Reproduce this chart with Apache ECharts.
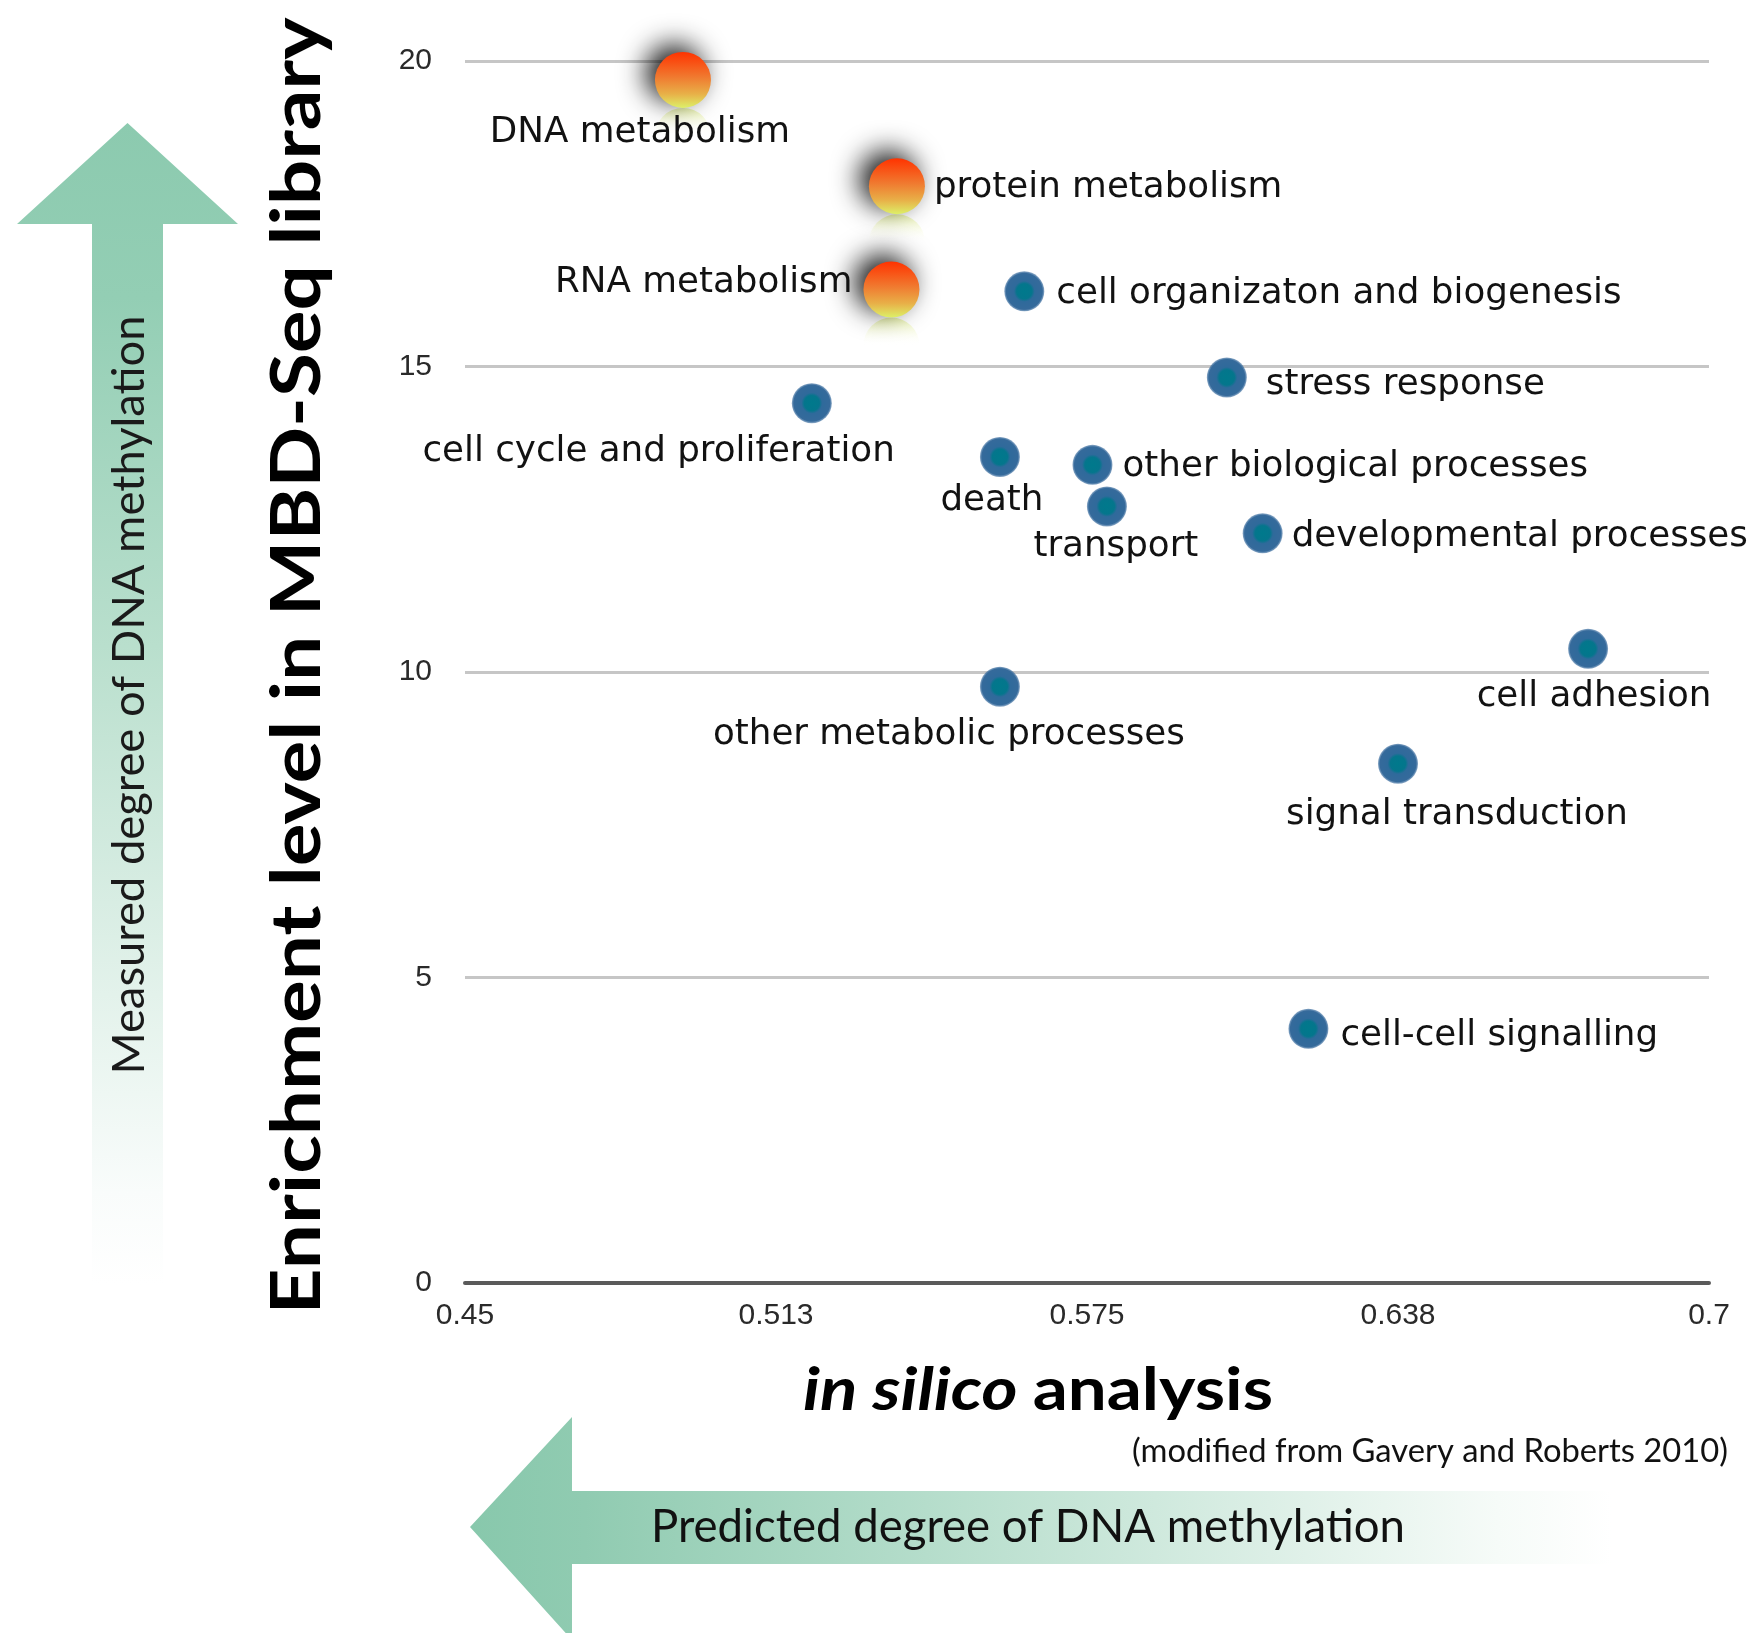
<!DOCTYPE html>
<html>
<head>
<meta charset="utf-8">
<script src="https://cdn.jsdelivr.net/npm/echarts@6/dist/echarts.min.js"></script>
<style>
html,body{margin:0;padding:0;background:#fff;}
#chart{width:1754px;height:1633px;}
</style>
</head>
<body>
<div id="chart"></div>
<script>
// ---- data ----
const categories = ['DNA metabolism','protein metabolism','RNA metabolism','cell organizaton and biogenesis','stress response','cell cycle and proliferation','death','other biological processes','transport','developmental processes','cell adhesion','other metabolic processes','signal transduction','cell-cell signalling'];
const predicted  = [0.4938, 0.5368, 0.5343, 0.5624, 0.6031, 0.5197, 0.5575, 0.5761, 0.5790, 0.6103, 0.6757, 0.5575, 0.6375, 0.6195];
const enrichment = [19.69, 17.95, 16.28, 16.23, 14.82, 14.40, 13.52, 13.39, 12.71, 12.27, 10.38, 9.76, 8.50, 4.16];
const highlightCategories = ['DNA metabolism','protein metabolism','RNA metabolism'];
const highlightPredicted  = [0.4938, 0.5368, 0.5357];
const highlightEnrichment = [19.69, 17.95, 16.26];
const xTickValues = [0.45, 0.5125, 0.575, 0.6375, 0.7];
const xTickLabels = ['0.45', '0.513', '0.575', '0.638', '0.7'];
const yTitle = 'Enrichment level in MBD-Seq library';
const xTitleItalic = 'in silico';
const xTitleRest = 'analysis';
const sourceNote = '(modified from Gavery and Roberts 2010)';
const verticalArrowText = 'Measured degree of DNA methylation';
const horizontalArrowText = 'Predicted degree of DNA methylation';

// ---- label placement (style) ----
const labelPlacement = {
  'DNA metabolism': ['center', -43, 53],
  'protein metabolism': ['left', 37, 1],
  'RNA metabolism': ['right', -39, -7],
  'cell organizaton and biogenesis': ['left', 32, 2],
  'stress response': ['left', 39, 7],
  'cell cycle and proliferation': ['right', 83, 49],
  'death': ['center', -8, 44],
  'other biological processes': ['left', 30, 2],
  'transport': ['center', 9, 40],
  'developmental processes': ['left', 29, 3],
  'cell adhesion': ['center', 6, 48],
  'other metabolic processes': ['center', -51, 48],
  'signal transduction': ['center', 59, 51],
  'cell-cell signalling': ['left', 32, 7]
};
function labelFor(name, show) {
  const p = labelPlacement[name];
  return {
    show: show,
    formatter: '{b}',
    position: 'inside',
    align: p[0],
    verticalAlign: 'middle',
    offset: [p[1], p[2]],
    fontFamily: 'DejaVu Sans',
    fontSize: 35.7,
    color: '#121212'
  };
}

const measureCtx = document.createElement('canvas').getContext('2d');
function textWidth(text, font) { measureCtx.font = font; return measureCtx.measureText(text).width; }
function fitText(text, font, target) { return target / textWidth(text, font); }

const chart = echarts.init(document.getElementById('chart'));

const blueData = categories.map((c, i) => ({
  name: c,
  value: [predicted[i], enrichment[i]],
  label: labelFor(c, highlightCategories.indexOf(c) < 0)
}));
const orangeData = highlightCategories.map((c, i) => ({
  name: c,
  value: [highlightPredicted[i], highlightEnrichment[i]],
  label: labelFor(c, true)
}));

// graphic texts
const fYT = 'bold 68px Lato';
const fVA = '44px Lato';
const fHA = '46px Lato';
const fNote = '32px Lato';
const fXI = 'italic bold 60px Lato';
const fXR = 'bold 60px Lato';
const xiW = textWidth(xTitleItalic + ' ', fXI);
const xrW = textWidth(xTitleRest, fXR);
const xs = 470 / (xiW + xrW);
const tickFont = "'Liberation Sans Narrow', 'Liberation Sans'";

const option = {
  animation: false,
  backgroundColor: '#ffffff',
  grid: { left: 465, right: 45, top: 61, bottom: 350 },
  xAxis: {
    type: 'value', min: 0.45, max: 0.7,
    splitLine: { show: false },
    axisTick: { show: false },
    axisLine: { show: true, lineStyle: { color: '#5a5a5a', width: 4 } },
    axisLabel: {
      customValues: xTickValues,
      margin: 18,
      fontFamily: tickFont, fontSize: 30, color: '#2a2a2a',
      formatter: function (v) {
        for (let i = 0; i < xTickValues.length; i++) {
          if (Math.abs(v - xTickValues[i]) < 1e-6) return xTickLabels[i];
        }
        return '';
      }
    }
  },
  yAxis: {
    type: 'value', min: 0, max: 20, interval: 5,
    axisLine: { show: false }, axisTick: { show: false },
    splitLine: { show: true, lineStyle: { color: '#c6c6c6', width: 3 } },
    axisLabel: { margin: 33, fontFamily: tickFont, fontSize: 30, color: '#2a2a2a' }
  },
  series: [
    {
      type: 'scatter', z: 2, symbol: 'circle', symbolSize: 40,
      emphasis: { disabled: true },
      itemStyle: {
        opacity: 1,
        color: {
          type: 'radial', x: 0.5, y: 0.5, r: 0.5,
          colorStops: [
            { offset: 0, color: '#00798c' },
            { offset: 0.38, color: '#04768c' },
            { offset: 0.52, color: '#2f6a9b' },
            { offset: 0.9, color: '#356a9b' },
            { offset: 1, color: 'rgba(60,110,160,0.6)' }
          ]
        }
      },
      data: blueData
    },
    {
      type: 'scatter', z: 3, symbol: 'circle', symbolSize: 56, symbolOffset: [0, 56],
      silent: true, emphasis: { disabled: true },
      label: { show: false },
      itemStyle: {
        opacity: 1,
        color: {
          type: 'linear', x: 0, y: 0, x2: 0, y2: 1,
          colorStops: [
            { offset: 0, color: 'rgba(222,238,120,0.6)' },
            { offset: 0.5, color: 'rgba(255,255,255,0)' },
            { offset: 1, color: 'rgba(255,255,255,0)' }
          ]
        }
      },
      data: highlightCategories.map((c, i) => ({ name: c, value: [highlightPredicted[i], highlightEnrichment[i]] }))
    },
    {
      type: 'scatter', z: 4, symbol: 'circle', symbolSize: 56,
      emphasis: { disabled: true },
      itemStyle: {
        opacity: 1,
        color: {
          type: 'linear', x: 0, y: 0, x2: 0, y2: 1,
          colorStops: [
            { offset: 0, color: '#ff3300' },
            { offset: 0.45, color: '#f07a30' },
            { offset: 0.75, color: '#e8b048' },
            { offset: 1, color: '#ddf068' }
          ]
        },
        shadowColor: 'rgba(0,0,0,0.95)',
        shadowBlur: 28,
        shadowOffsetX: -9,
        shadowOffsetY: -7
      },
      data: orangeData
    }
  ],
  graphic: [
    // vertical arrow
    {
      type: 'polygon', z: -10, silent: true,
      shape: { points: [[127.5, 123], [238, 224], [163, 224], [163, 1285], [92, 1285], [92, 224], [17, 224]] },
      style: {
        fill: {
          type: 'linear', x: 0, y: 123, x2: 0, y2: 1285, global: true,
          colorStops: [
            { offset: 0, color: '#8ccaaf' },
            { offset: 0.15, color: '#93ceb4' },
            { offset: 0.45, color: '#b9dfcd' },
            { offset: 0.75, color: '#e3f2eb' },
            { offset: 0.92, color: '#f9fcfb' },
            { offset: 1, color: '#ffffff' }
          ]
        }
      }
    },
    // horizontal arrow
    {
      type: 'polygon', z: -10, silent: true,
      shape: { points: [[470, 1527], [572, 1417], [572, 1491], [1612, 1491], [1612, 1564], [572, 1564], [572, 1640]] },
      style: {
        fill: {
          type: 'linear', x: 470, y: 0, x2: 1612, y2: 0, global: true,
          colorStops: [
            { offset: 0, color: '#88c8ac' },
            { offset: 0.1, color: '#90cbb1' },
            { offset: 0.4, color: '#b5ddcb' },
            { offset: 0.7, color: '#dcefe6' },
            { offset: 0.9, color: '#f6fbf8' },
            { offset: 1, color: '#ffffff' }
          ]
        }
      }
    },
    {
      type: 'text', x: 130, y: 695, rotation: Math.PI / 2,
      scaleX: fitText(verticalArrowText, fVA, 759),
      style: { text: verticalArrowText, font: fVA, fill: '#1a1a1a', textAlign: 'center', textVerticalAlign: 'middle' }
    },
    {
      type: 'text', x: 651, y: 1527,
      scaleX: fitText(horizontalArrowText, fHA, 754),
      style: { text: horizontalArrowText, font: fHA, fill: '#111', textAlign: 'left', textVerticalAlign: 'middle' }
    },
    {
      type: 'text', x: 298, y: 666, rotation: Math.PI / 2,
      scaleX: fitText(yTitle, fYT, 1297),
      style: { text: yTitle, font: fYT, fill: '#000', textAlign: 'center', textVerticalAlign: 'middle' }
    },
    {
      type: 'text', x: 803, y: 1391, scaleX: xs,
      style: { text: xTitleItalic, font: fXI, fill: '#000', textAlign: 'left', textVerticalAlign: 'middle' }
    },
    {
      type: 'text', x: 803 + xiW * xs, y: 1391, scaleX: xs,
      style: { text: xTitleRest, font: fXR, fill: '#000', textAlign: 'left', textVerticalAlign: 'middle' }
    },
    {
      type: 'text', x: 1728, y: 1452,
      scaleX: fitText(sourceNote, fNote, 596),
      style: { text: sourceNote, font: fNote, fill: '#111', textAlign: 'right', textVerticalAlign: 'middle' }
    }
  ]
};
chart.setOption(option);
</script>
</body>
</html>
